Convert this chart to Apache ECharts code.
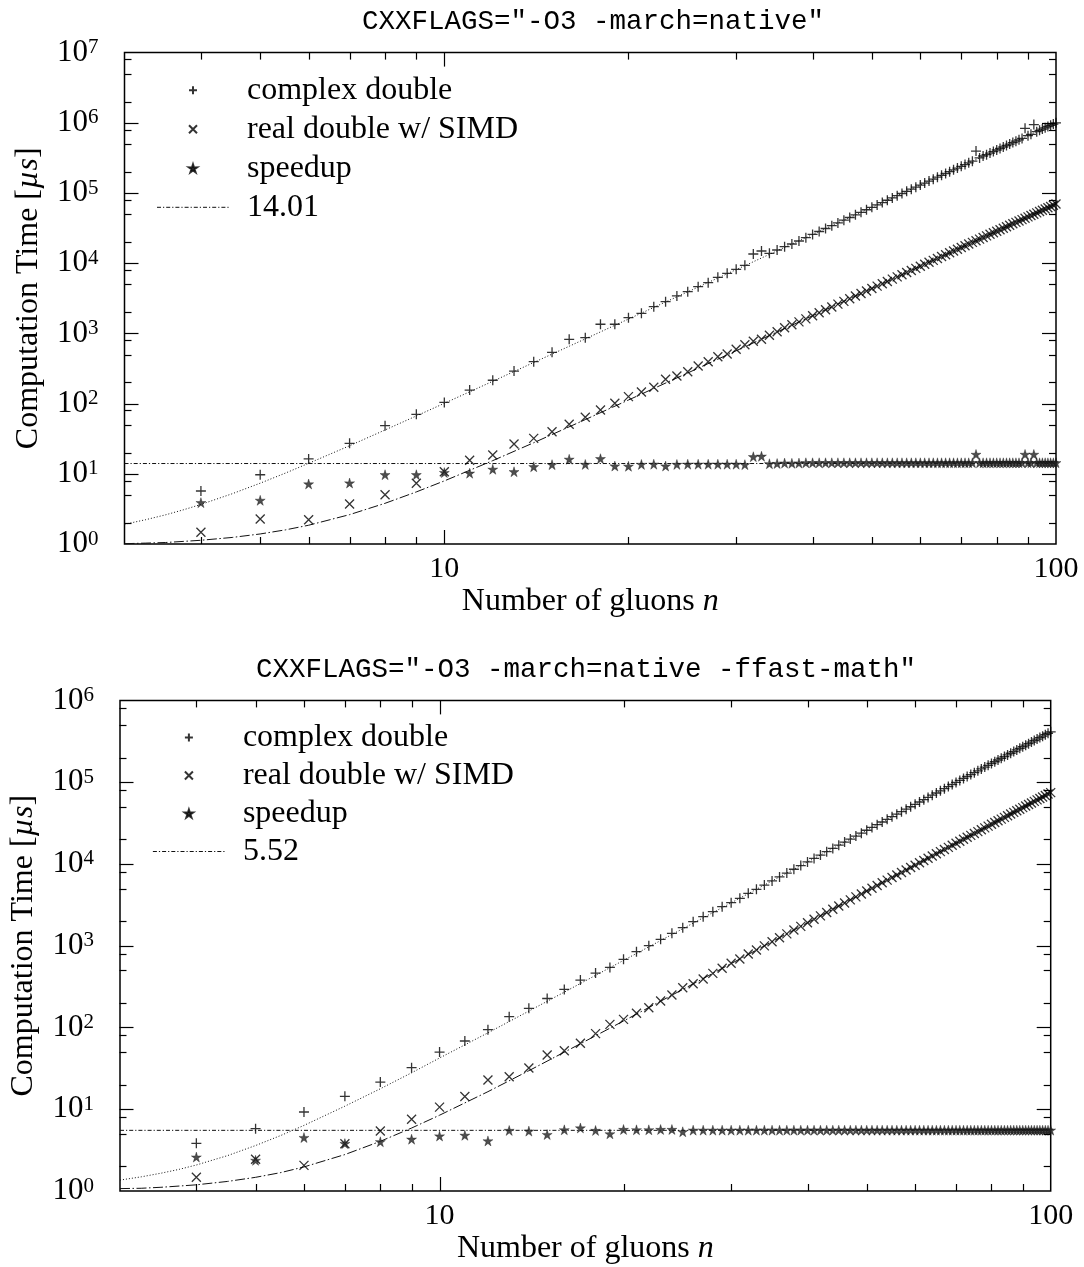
<!DOCTYPE html>
<html>
<head>
<meta charset="utf-8">
<script src="https://cdn.jsdelivr.net/npm/echarts@6/dist/echarts.min.js"></script>
<style>
html,body{margin:0;padding:0;background:#fff}
#chart{width:1084px;height:1267px}
</style>
</head>
<body>
<div id="chart"></div>
<script>
// number of gluons
const N = [4,5,6,7,8,9,10,11,12,13,14,15,16,17,18,19,20,21,22,23,24,25,26,27,28,29,30,
  31,32,33,34,35,36,37,38,39,40,41,42,43,44,45,46,47,48,49,50,51,52,53,54,55,56,57,58,59,60,
  61,62,63,64,65,66,67,68,69,70,71,72,73,74,75,76,77,78,79,80,81,82,83,84,85,86,87,88,89,90,
  91,92,93,94,95,96,97,98,99,100];

// CXXFLAGS="-O3 -march=native" : computation time in microseconds
const COMPLEX_NATIVE = [5.69,9.7,16.3,27.2,48.4,70.4,104,156,215,291,395,538,824,868,1349,1349,1674,
  1933,2403,2831,3413,3926,4624,5272,6298,7180,8187,9335,13520,14920,13830,15410,17190,18780,20710,
  23100,25700,28300,31200,34200,37500,41000,44800,48800,53100,57700,62500,67700,73100,78900,85000,
  91500,98300,105600,113200,121200,129600,138500,147800,157500,167800,178500,189700,201500,213800,
  226700,240100,254100,268700,284000,395000,316400,336700,351500,370200,389500,409600,430500,452100,
  474600,497900,522000,547000,572900,599700,834000,656100,685700,944000,748100,780700,814500,849300,
  885300,922400,960600,1000000];
const REAL_NATIVE = [1.47,2.27,2.22,3.71,5.04,7.32,10.7,15.6,18.5,26.6,32.0,39.8,50.7,63.8,81.1,101,125.6,
  146,171,222,247,285,343,395,466,509,593,690,771,824,940,1058,1206,1330,1460,
  1612,1784,1970,2169,2383,2612,2858,3121,3401,3700,4018,4356,4715,5096,5500,5927,6378,6855,7358,7887,
  8446,9033,9651,10300,10980,11690,12440,13230,14050,14900,15800,16740,17710,18730,19790,20900,22050,
  23250,24500,25800,27150,28550,30000,31510,33080,34700,36380,38130,39930,41800,43730,45730,47800,
  49930,52140,54420,56770,59200,61700,64290,66950,69700];
const SPEEDUP_NATIVE = [3.88,4.19,7.16,7.39,9.7,9.7,10.4,10.2,11.6,10.7,12.6,13.5,16.1,13.6,16.4,12.9,12.8,
  13.6,13.7,12.9,13.6,13.7,13.7,13.7,13.7,13.7,13.7,13.5,17.5,17.8,13.9,14.0,14.2,14.1,14.2,
  14.35,14.35,14.35,14.35,14.35,14.35,14.35,14.35,14.35,14.35,14.35,14.35,14.35,14.35,14.35,14.35,
  14.35,14.35,14.35,14.35,14.35,14.35,14.35,14.35,14.35,14.35,14.35,14.35,14.35,14.35,14.35,14.35,
  14.35,14.35,14.35,18.9,14.35,14.35,14.35,14.35,14.35,14.35,14.35,14.35,14.35,14.35,14.35,14.35,
  14.35,14.35,18.9,14.35,14.35,18.9,14.35,14.35,14.35,14.35,14.35,14.35,14.35,14.35];
const MEAN_NATIVE = 14.01;

// fitted curves (n, time)
const FIT_N = [3,3.25,3.5,3.75,4,4.5,5,5.5,6,7,8,9,10,12,14,17,20,25,30,40,50,70,100];
const FIT_COMPLEX_NATIVE = [1.91,2.22,2.6,3.08,3.66,5.2,7.35,10.25,14.1,25.1,42.1,66.7,101,208,385,836,
  1601,3907,8101,25600,62500,240100,1000000];
const FIT_REAL_NATIVE = [1.01,1.03,1.05,1.09,1.13,1.24,1.39,1.59,1.85,2.62,3.8,5.52,7.92,15.4,27.7,59.2,
  112.5,273,566,1785,4357,16740,69700];

// CXXFLAGS="-O3 -march=native -ffast-math"
const COMPLEX_FAST = [3.83,5.78,9.25,14.4,21.5,32.2,50,68.3,94,135.5,171.6,226,292,380,463,543,681,845,
  1000,1197,1417,1660,1965,2263,2606,3000,3357,3796,4372,4894,5519,6198,6937,7740,8612,9554,10570,
  11670,12850,14120,15480,16940,18490,20150,21920,23810,25810,27940,30200,32590,35120,37790,40620,
  43600,46740,50040,53520,57180,61030,65060,69290,73720,78370,83220,88300,93620,99160,104950,110990,
  117290,123840,130680,137790,145180,152870,160860,169160,177780,186730,196000,205620,215590,225910,
  236610,247670,259120,270970,283220,295870,308950,322450,336390,350780,365630,380940,396730,413000];
const REAL_FAST = [1.47,2.44,2.06,3.79,5.42,7.53,10.6,14.3,22.8,25,32,46.1,52,64,84,109,125.7,149,174.6,
  210.7,249.6,306,343,391,459,529,609,688,791,885,996,1118,1251,1396,1553,1724,1907,2105,2318,2547,
  2792,3055,3336,3635,3955,4295,4656,5040,5447,5878,6335,6817,7327,7864,8431,9027,9655,10315,11008,
  11736,12499,13299,14136,15013,15929,16887,17887,18932,20021,21157,22340,23572,24855,26189,27576,
  29018,30515,32070,33683,35356,37091,38889,40752,42681,44677,46743,48879,51088,53371,55730,58166,
  60681,63276,65954,68716,71564,74500];
const SPEEDUP_FAST = [2.6,2.37,4.5,3.8,4.0,4.3,4.7,4.8,4.1,5.5,5.4,4.9,5.6,5.9,5.5,5.0,5.65,5.6,5.6,5.65,
  5.65,5.3,5.55,5.55,5.55,5.55,5.55,5.55,5.55,5.55,5.55,5.55,5.55,5.55,5.55,5.55,5.55,5.55,5.55,5.55,
  5.55,5.55,5.55,5.55,5.55,5.55,5.55,5.55,5.55,5.55,5.55,5.55,5.55,5.55,5.55,5.55,5.55,5.55,5.55,5.55,
  5.55,5.55,5.55,5.55,5.55,5.55,5.55,5.55,5.55,5.55,5.55,5.55,5.55,5.55,5.55,5.55,5.55,5.55,5.55,5.55,
  5.55,5.55,5.55,5.55,5.55,5.55,5.55,5.55,5.55,5.55,5.55,5.55,5.55,5.55,5.55,5.55,5.55];
const MEAN_FAST = 5.52;
const FIT_COMPLEX_FAST = [1.36,1.49,1.65,1.84,2.08,2.71,3.6,4.78,6.34,10.9,17.8,27.9,42.3,86,158.6,345,
  661,1614,3346,10573,25813,99160,413000];
const FIT_REAL_FAST = [1.07,1.08,1.11,1.15,1.19,1.31,1.47,1.68,1.97,2.79,4.05,5.89,8.45,16.4,29.6,63.2,
  120,292,604,1908,4657,17888,74500];

// axis ranges and tick marks
const X_RANGE = [3, 100];
const X_LABELS = [10, 100];
const X_MAJOR_TICKS = [10];
const X_MINOR_TICKS = [4,5,6,7,8,9,20,30,40,50,60,70,80,90];
const Y_RANGE_NATIVE = [1, 1e7];
const Y_RANGE_FAST = [1, 1e6];
const Y_MAJOR_TICKS_NATIVE = [10,100,1e3,1e4,1e5,1e6];
const Y_MINOR_TICKS_NATIVE = [2,5,8,20,50,80,200,500,800,2e3,5e3,8e3,2e4,5e4,8e4,2e5,5e5,8e5,2e6,5e6,8e6];
const Y_MAJOR_TICKS_FAST = [10,100,1e3,1e4,1e5];
const Y_MINOR_TICKS_FAST = [2,5,8,20,50,80,200,500,800,2e3,5e3,8e3,2e4,5e4,8e4,2e5,5e5,8e5];

// plot frames
const GRIDS = [
  { left: 124.5, top: 52.6, width: 931.5, height: 491.4 },
  { left: 119.5, top: 700.4, width: 931.2, height: 490.6 }
];

const SERIF = '"Liberation Serif", "Times New Roman", serif';
const MONO = '"Liberation Mono", "Courier New", monospace';

const PLUS = 'path://M5,0L5,10M0,5L10,5';
const CROSS = 'path://M0,0L10,10M10,0L0,10';
const STAR = 'path://M5,0L6.1,3.5L9.76,3.45L6.8,5.6L7.94,9.05L5,6.9L2.06,9.05L3.2,5.6L0.24,3.45L3.9,3.5Z';

const pairs = (xs, ys) => xs.map((x, i) => [x, ys[i]]);

function scatter(name, idx, ys, symbol, size, fill) {
  return {
    name, type: 'scatter', xAxisIndex: idx, yAxisIndex: idx,
    data: pairs(N, ys), symbol, symbolSize: size, z: 4, silent: true,
    itemStyle: { color: fill || 'rgba(0,0,0,0)', borderColor: '#000', borderWidth: fill ? 0.4 : 1.3 }
  };
}
function curve(name, idx, xs, ys, dash) {
  return {
    name, type: 'line', xAxisIndex: idx, yAxisIndex: idx, data: pairs(xs, ys),
    symbol: 'none', showSymbol: false, silent: true, z: 2,
    lineStyle: { color: '#111', width: 1, type: dash }
  };
}
function meanLine(name, idx, value) {
  return {
    name, type: 'line', xAxisIndex: idx, yAxisIndex: idx,
    data: [[X_RANGE[0], value], [X_RANGE[1], value]],
    symbol: 'none', showSymbol: false, silent: true, z: 2,
    itemStyle: { color: 'rgba(0,0,0,0)', borderColor: 'rgba(0,0,0,0)' },
    lineStyle: { color: '#111', width: 1, type: [4, 2, 1.2, 2] }
  };
}

function xAxis(idx) {
  return {
    type: 'log', logBase: 10, gridIndex: idx, min: X_RANGE[0], max: X_RANGE[1],
    axisLine: { show: false }, axisTick: { show: false }, splitLine: { show: false },
    axisLabel: {
      margin: 10, color: '#000', fontFamily: SERIF, fontSize: 30,
      formatter: v => {
        const hit = X_LABELS.find(l => Math.abs(v - l) / l < 1e-6);
        return hit ? String(hit) : '';
      }
    },
    name: 'Number of gluons {i|n}', nameLocation: 'middle', nameGap: 42,
    nameTextStyle: { color: '#000', fontFamily: SERIF, fontSize: 32,
      rich: { i: { fontStyle: 'italic', fontFamily: SERIF, fontSize: 32, color: '#000' } } }
  };
}
function yAxis(idx, range) {
  return {
    type: 'log', logBase: 10, gridIndex: idx, min: range[0], max: range[1],
    axisLine: { show: false }, axisTick: { show: false }, splitLine: { show: false },
    axisLabel: {
      margin: 26, color: '#000', fontFamily: SERIF,
      formatter: v => '{b|10}{s|' + Math.round(Math.log10(v)) + '}',
      rich: {
        b: { fontSize: 31, fontFamily: SERIF, color: '#000', lineHeight: 31, padding: [12, 0, 0, 0], verticalAlign: 'bottom' },
        s: { fontSize: 21, fontFamily: SERIF, color: '#000', lineHeight: 31, verticalAlign: 'top' }
      }
    },
    name: 'Computation Time [{i|µs}]', nameLocation: 'middle', nameGap: 80,
    nameTextStyle: { color: '#000', fontFamily: SERIF, fontSize: 32,
      rich: { i: { fontStyle: 'italic', fontFamily: SERIF, fontSize: 32, color: '#000' } } }
  };
}
function legend(left, top, meanName, rowHeight) {
  return {
    orient: 'vertical', left, top, itemWidth: 72, itemHeight: 8, itemGap: 0,
    selectedMode: false,
    data: ['complex double', 'real double w/ SIMD', 'speedup', meanName],
    textStyle: { color: '#000', fontFamily: SERIF, fontSize: 32, lineHeight: rowHeight, padding: [0, 0, 0, 13] },
    lineStyle: { width: 1 }
  };
}

const chart = echarts.init(document.getElementById('chart'), null, { renderer: 'canvas' });
chart.setOption({
  animation: false,
  backgroundColor: '#fff',
  title: [
    { text: 'CXXFLAGS="-O3 -march=native"', left: 588, top: 2, textAlign: 'center',
      textStyle: { fontFamily: MONO, fontSize: 27.5, fontWeight: 'normal', color: '#000', lineHeight: 30 } },
    { text: 'CXXFLAGS="-O3 -march=native -ffast-math"', left: 581, top: 650, textAlign: 'center',
      textStyle: { fontFamily: MONO, fontSize: 27.5, fontWeight: 'normal', color: '#000', lineHeight: 30 } }
  ],
  grid: GRIDS.map(g => Object.assign({ show: true, borderColor: '#000', borderWidth: 1.5, backgroundColor: 'transparent' }, g)),
  legend: [legend(151.5, 65.8, String(MEAN_NATIVE), 39), legend(147.4, 713.5, String(MEAN_FAST), 38)],
  xAxis: [xAxis(0), xAxis(1)],
  yAxis: [yAxis(0, Y_RANGE_NATIVE), yAxis(1, Y_RANGE_FAST)],
  series: [
    curve('fit complex native', 0, FIT_N, FIT_COMPLEX_NATIVE, [1, 2]),
    curve('fit real native', 0, FIT_N, FIT_REAL_NATIVE, [10, 2.5, 1.5, 2.5]),
    meanLine(String(MEAN_NATIVE), 0, MEAN_NATIVE),
    scatter('complex double', 0, COMPLEX_NATIVE, PLUS, 10),
    scatter('real double w/ SIMD', 0, REAL_NATIVE, CROSS, 9),
    scatter('speedup', 0, SPEEDUP_NATIVE, STAR, 10, '#222'),

    curve('fit complex fast', 1, FIT_N, FIT_COMPLEX_FAST, [1, 2]),
    curve('fit real fast', 1, FIT_N, FIT_REAL_FAST, [10, 2.5, 1.5, 2.5]),
    meanLine(String(MEAN_FAST), 1, MEAN_FAST),
    scatter('complex double', 1, COMPLEX_FAST, PLUS, 10),
    scatter('real double w/ SIMD', 1, REAL_FAST, CROSS, 9),
    scatter('speedup', 1, SPEEDUP_FAST, STAR, 10, '#222')
  ]
});

// inward tick marks on all four sides of each frame, placed through the axes' own scales
function tickMarks(idx, xMajor, xMinor, yMajor, yMinor) {
  const g = GRIDS[idx];
  const L = g.left, T = g.top, R = g.left + g.width, B = g.top + g.height;
  const els = [];
  const seg = (x1, y1, x2, y2) => els.push({
    type: 'line', silent: true, z: 50,
    shape: { x1, y1, x2, y2 }, style: { stroke: '#000', lineWidth: 1.2 }
  });
  const xt = (v, len) => {
    const x = Math.round(chart.convertToPixel({ xAxisIndex: idx }, v)) + 0.5;
    seg(x, B, x, B - len); seg(x, T, x, T + len);
  };
  const yt = (v, len) => {
    const y = Math.round(chart.convertToPixel({ yAxisIndex: idx }, v)) + 0.5;
    seg(L, y, L + len, y); seg(R, y, R - len, y);
  };
  xMajor.forEach(v => xt(v, 14));
  xMinor.forEach(v => xt(v, 7));
  yMajor.forEach(v => yt(v, 14));
  yMinor.forEach(v => yt(v, 7));
  return els;
}
chart.setOption({
  graphic: tickMarks(0, X_MAJOR_TICKS, X_MINOR_TICKS, Y_MAJOR_TICKS_NATIVE, Y_MINOR_TICKS_NATIVE)
    .concat(tickMarks(1, X_MAJOR_TICKS, X_MINOR_TICKS, Y_MAJOR_TICKS_FAST, Y_MINOR_TICKS_FAST))
});
</script>
</body>
</html>
